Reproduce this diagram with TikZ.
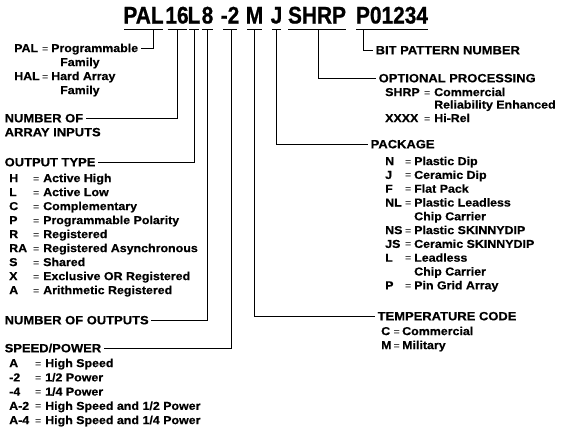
\documentclass[tikz,border=0pt]{standalone}
\usepackage{fontspec}
\setmainfont{Liberation Sans}
\newfontfamily\widesans{Liberation Sans}[FakeStretch=1.08, BoldFeatures={FakeBold=0.5}]
\newfontfamily\titlesans{Liberation Sans}[FakeStretch=0.87, BoldFeatures={FakeBold=0.8}]
\newcommand\HDF{\widesans\bfseries\fontsize{12pt}{14pt}\selectfont}
\newcommand\BDF{\widesans\bfseries\fontsize{11.5pt}{13pt}\selectfont}
\newcommand\EQF{\widesans\fontsize{10pt}{12pt}\selectfont}
\newcommand\TTF{\titlesans\bfseries\fontsize{24pt}{26pt}\selectfont}
\tikzset{
  ttl/.style={font=\TTF, anchor=base, inner xsep=0pt, inner ysep=5.5pt, text depth=0pt},
  hd/.style={font=\HDF, anchor=west, inner xsep=2.5pt, inner ysep=0pt, text height=8.6pt, text depth=0pt},
  bd/.style={font=\BDF, anchor=west, inner sep=0pt, text height=8.2pt, text depth=0pt},
  eqs/.style={font=\EQF, anchor=west, inner sep=0pt, text height=8.2pt, text depth=0pt},
  ln/.style={line width=0.9pt, draw=black},
}
\begin{document}
\begin{tikzpicture}[x=1pt,y=-1pt]
\useasboundingbox (0,0) rectangle (562,429);

% ---- title ----
\node[ttl] (tPAL)  at (143.5,23.5) {PAL};
\node[ttl] (t16)   at (177,23.5) {16};
\node[ttl] (tL)    at (194,23.5) {L};
\node[ttl] (t8)    at (207.5,23.5) {8};
\node[ttl] (tSP)   at (230,23.5) {-2};
\node[ttl] (tM)    at (254.5,23.5) {M};
\node[ttl] (tJ)    at (276.5,23.5) {J};
\node[ttl] (tSHRP) at (317,23.5) {SHRP};
\node[ttl] (tPN)   at (392,23.5) {P01234};

% underlines
\draw[ln] ([xshift=-19.5pt]tPAL.south) -- ([xshift=19.5pt]tPAL.south);
\draw[ln] ([xshift=-9.5pt]t16.south) -- ([xshift=9.5pt]t16.south);
\draw[ln] ([xshift=-5pt]tL.south) -- ([xshift=5pt]tL.south);
\draw[ln] ([xshift=-5.5pt]t8.south) -- ([xshift=5.5pt]t8.south);
\draw[ln] ([xshift=-7pt]tSP.south) -- ([xshift=7pt]tSP.south);
\draw[ln] ([xshift=-7.5pt]tM.south) -- ([xshift=7.5pt]tM.south);
\draw[ln] ([xshift=-4.5pt]tJ.south) -- ([xshift=4.5pt]tJ.south);
\draw[ln] ([xshift=-29pt]tSHRP.south) -- ([xshift=29pt]tSHRP.south);
\draw[ln] ([xshift=-36pt]tPN.south) -- ([xshift=36pt]tPN.south);

% ---- PAL / HAL ----
\node[bd]  (kPAL) at (14,48) {PAL};
\node[eqs] (ePAL) at (42,48) {=};
\node[bd]  (xPAL) at (51,48) {Programmable};
\node[bd]  (fPAL) at (60,62) {Family};
\node[bd]  (kHAL) at (14,76) {HAL};
\node[eqs] (eHAL) at (42,76) {=};
\node[bd]  (xHAL) at (51,76) {Hard Array};
\node[bd]  (fHAL) at (60,90) {Family};

% ---- number of array inputs ----
\node[hd] (hNumIn) at (2,118) {NUMBER OF};
\node[hd] (hArr)   at (2,132) {ARRAY INPUTS};

% ---- output type ----
\node[hd] (hOut) at (2,162) {OUTPUT TYPE};
\foreach \k/\t [count=\i from 0] in {H/Active High, L/Active Low, C/Complementary,
    P/Programmable Polarity, R/Registered, RA/Registered Asynchronous, S/Shared,
    X/Exclusive OR Registered, A/Arithmetic Registered} {
  \node[bd]  (ok\i) at (9,{178+14*\i}) {\k};
  \node[eqs] (oe\i) at (33,{178+14*\i}) {=};
  \node[bd]  (ot\i) at (43,{178+14*\i}) {\t};
}

% ---- number of outputs ----
\node[hd] (hNumOut) at (2,320) {NUMBER OF OUTPUTS};

% ---- speed / power ----
\node[hd] (hSpeed) at (2,348) {SPEED/POWER};
\foreach \k/\t [count=\i from 0] in {A/High Speed, -2/1\slash 2 Power, -4/1\slash 4 Power,
    A-2/High Speed and 1\slash 2 Power, A-4/High Speed and 1\slash 4 Power} {
  \node[bd]  (sk\i) at (9,{363+14.25*\i}) {\k};
  \node[eqs] (se\i) at (35,{363+14.25*\i}) {=};
  \node[bd]  (st\i) at (45,{363+14.25*\i}) {\t};
}

% ---- bit pattern ----
\node[hd] (hBit) at (373,50) {BIT PATTERN NUMBER};

% ---- optional processing ----
\node[hd]  (hOpt) at (376,78) {OPTIONAL PROCESSING};
\node[bd]  (kSH)  at (385,92) {SHRP};
\node[eqs] (eSH)  at (424,92) {=};
\node[bd]  (xSH)  at (434,92) {Commercial};
\node[bd]  (xSH2) at (434,104.5) {Reliability Enhanced};
\node[bd]  (kXX)  at (385,118) {XXXX};
\node[eqs] (eXX)  at (424,118) {=};
\node[bd]  (xXX)  at (434,118) {Hi-Rel};

% ---- package ----
\node[hd]  (hPkg) at (368,144) {PACKAGE};
\foreach \k/\t/\r [count=\i from 0] in {N/Plastic Dip/0, J/Ceramic Dip/1, F/Flat Pack/2,
    NL/Plastic Leadless/3, NS/Plastic SKINNYDIP/5, JS/Ceramic SKINNYDIP/6,
    L/Leadless/7, P/Pin Grid Array/9} {
  \node[bd]  (pk\i) at (385,{161+13.8*\r}) {\k};
  \node[eqs] (pe\i) at (405,{161+13.8*\r}) {=};
  \node[bd]  (pt\i) at (414,{161+13.8*\r}) {\t};
}
\node[bd] (pc1) at (414,{161+13.8*4}) {Chip Carrier};
\node[bd] (pc2) at (414,{161+13.8*8}) {Chip Carrier};

% ---- temperature ----
\node[hd]  (hTemp) at (375,316) {TEMPERATURE CODE};
\node[bd]  (kC) at (381,331) {C};
\node[eqs] (eC) at (393.5,331) {=};
\node[bd]  (xC) at (402,331) {Commercial};
\node[bd]  (kMl) at (381,345) {M};
\node[eqs] (eMl) at (393.5,345) {=};
\node[bd]  (xMl) at (402,345) {Military};

% ---- connectors ----
\draw[ln] ([xshift=9.5pt]tPAL.south) |- ([xshift=3pt]xPAL.east);
\draw[ln] (t16.south) |- (hNumIn.east);
\draw[ln] (tL.south) |- (hOut.east);
\draw[ln] (t8.south) |- (hNumOut.east);
\draw[ln] ([xshift=1pt]tSP.south) |- (hSpeed.east);
\draw[ln] (tM.south) |- (hTemp.west);
\draw[ln] (tJ.south) |- (hPkg.west);
\draw[ln] ([xshift=1pt]tSHRP.south) |- (hOpt.west);
\draw[ln] ([xshift=-29pt]tPN.south) |- (hBit.west);
\end{tikzpicture}
\end{document}
